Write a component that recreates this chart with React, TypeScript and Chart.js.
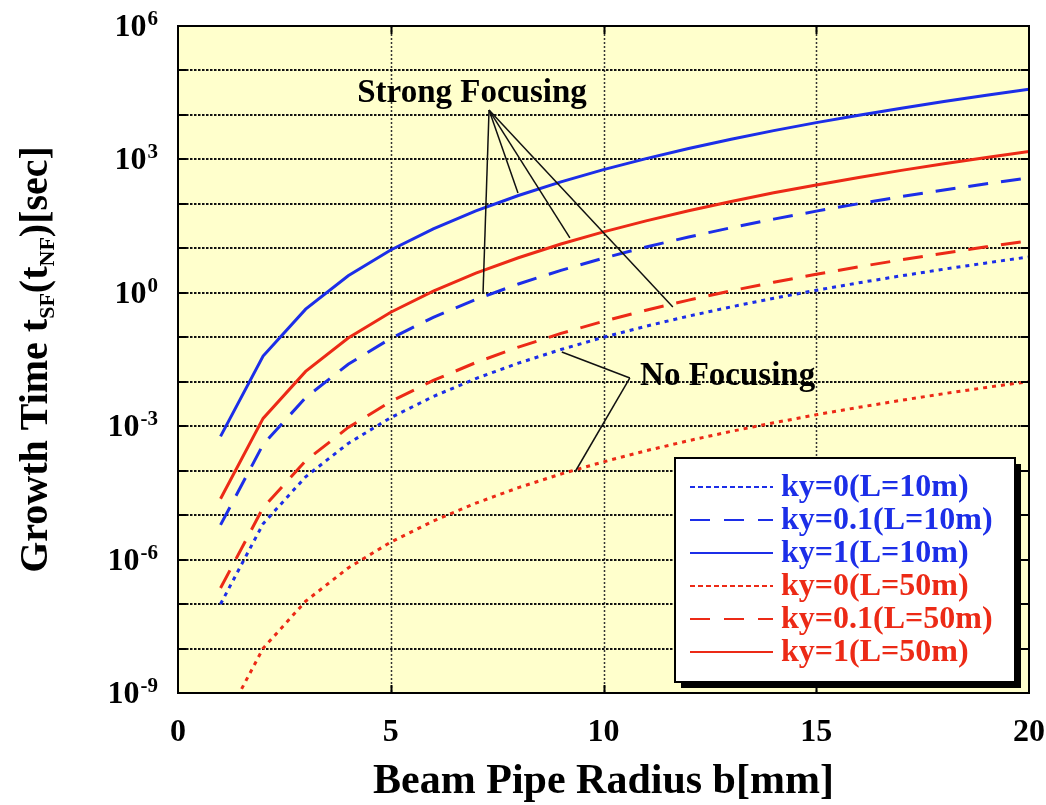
import React, { useEffect, useRef } from 'react';
import { Chart, registerables } from 'chart.js';

Chart.register(...registerables);

// Beam pipe radius b [mm]
const radius = [1, 2, 3, 4, 5, 6, 7, 8, 9, 10, 11, 12, 13, 14, 15, 16, 17, 18, 19, 20];

// Growth times [sec], L = 10 m
const ky0L10 = [1.0e-7, 6.4e-6, 7.29e-5, 4.1e-4, 1.56e-3, 4.67e-3, 0.0118, 0.0262, 0.0531, 0.1, 0.177, 0.299, 0.483, 0.753, 1.14, 1.68, 2.41, 3.4, 4.7, 6.4];
const ky01L10 = [6.03e-6, 3.86e-4, 4.39e-3, 0.0247, 0.0942, 0.281, 0.709, 1.58, 3.2, 6.03, 10.7, 18.0, 29.1, 45.4, 68.6, 101, 146, 205, 284, 386];
const ky1L10 = [5.89e-4, 0.0377, 0.429, 2.41, 9.2, 27.5, 69.3, 154, 313, 589, 1043, 1758, 2842, 4433, 6707, 9878, 14212, 20026, 27700, 37683];

// Growth times [sec], L = 50 m
const ky0L50 = [1.58e-10, 1.01e-8, 1.16e-7, 6.49e-7, 2.48e-6, 7.39e-6, 1.86e-5, 4.15e-5, 8.42e-5, 1.58e-4, 2.81e-4, 4.73e-4, 7.65e-4, 1.19e-3, 1.81e-3, 2.66e-3, 3.83e-3, 5.39e-3, 7.46e-3, 0.0101];
const ky01L50 = [2.29e-7, 1.47e-5, 1.67e-4, 9.38e-4, 3.58e-3, 0.0107, 0.027, 0.0601, 0.122, 0.229, 0.406, 0.684, 1.11, 1.73, 2.61, 3.84, 5.53, 7.79, 10.8, 14.7];
const ky1L50 = [2.34e-5, 1.5e-3, 0.0171, 0.096, 0.366, 1.094, 2.76, 6.15, 12.5, 23.4, 41.5, 70.0, 113, 177, 267, 393, 566, 797, 1103, 1500];

const seriesLabels = ['ky=0(L=10m)', 'ky=0.1(L=10m)', 'ky=1(L=10m)', 'ky=0(L=50m)', 'ky=0.1(L=50m)', 'ky=1(L=50m)'];

const xTickValues = [0, 5, 10, 15, 20];
const xGridValues = [5, 10, 15];
const yLabelExponents = [6, 3, 0, -3, -6, -9];
const yGridExponents = [6, 5, 4, 3, 2, 1, 0, -1, -2, -3, -4, -5, -6, -7, -8, -9];

const xTitle = 'Beam Pipe Radius b[mm]';
const strongLabel = 'Strong Focusing';
const noLabel = 'No Focusing';

const BLUE = 'rgb(28,46,232)';
const RED = 'rgb(236,42,22)';
const PLOT_BG = '#FFFFCC';
const SERIF = '"Liberation Serif", "Times New Roman", Times, serif';

const DOTTED = [4, 5];
const DASHED = [20, 13];

const makeSet = (label: string, values: number[], color: string, dash: number[]) => ({
  label,
  data: radius.map((b, i) => ({ x: b, y: values[i] })),
  borderColor: color,
  backgroundColor: color,
  borderWidth: 3,
  borderDash: dash,
  pointRadius: 0,
  tension: 0,
  fill: false,
});

const decorations = {
  id: 'decorations',
  beforeDatasetsDraw(chart: any) {
    const { ctx, chartArea: a, scales } = chart;
    const xs = scales.x;
    const ys = scales.y;
    ctx.save();
    ctx.fillStyle = PLOT_BG;
    ctx.fillRect(a.left, a.top, a.right - a.left, a.bottom - a.top);

    // vertical dotted grid
    ctx.strokeStyle = '#333';
    ctx.lineWidth = 1.5;
    ctx.setLineDash([2, 2]);
    for (const v of xGridValues) {
      const px = Math.round(xs.getPixelForValue(v)) + 0.5;
      ctx.beginPath();
      ctx.moveTo(px, a.top);
      ctx.lineTo(px, a.bottom);
      ctx.stroke();
    }
    // horizontal dotted grid at each decade
    ctx.strokeStyle = '#111';
    ctx.lineWidth = 2;
    ctx.setLineDash([2.5, 1.5]);
    for (const e of yGridExponents) {
      const py = Math.round(ys.getPixelForValue(Math.pow(10, e)));
      ctx.beginPath();
      ctx.moveTo(a.left, py);
      ctx.lineTo(a.right, py);
      ctx.stroke();
    }
    ctx.restore();
  },
  afterDatasetsDraw(chart: any) {
    const { ctx, chartArea: a, scales } = chart;
    const xs = scales.x;
    const ys = scales.y;
    const P = (x: number, lg: number) => [xs.getPixelForValue(x), ys.getPixelForValue(Math.pow(10, lg))];

    ctx.save();
    // frame
    ctx.setLineDash([]);
    ctx.strokeStyle = '#000';
    ctx.lineWidth = 2;
    ctx.strokeRect(a.left, a.top, a.right - a.left, a.bottom - a.top);

    // inward tick marks
    ctx.lineWidth = 2;
    for (const e of yGridExponents) {
      const py = Math.round(ys.getPixelForValue(Math.pow(10, e)));
      ctx.beginPath();
      ctx.moveTo(a.left, py);
      ctx.lineTo(a.left + 8, py);
      ctx.moveTo(a.right, py);
      ctx.lineTo(a.right - 8, py);
      ctx.stroke();
    }
    for (const v of xGridValues) {
      const px = Math.round(xs.getPixelForValue(v)) + 0.5;
      ctx.beginPath();
      ctx.moveTo(px, a.bottom);
      ctx.lineTo(px, a.bottom - 8);
      ctx.moveTo(px, a.top);
      ctx.lineTo(px, a.top + 8);
      ctx.stroke();
    }

    // annotation leaders
    ctx.lineWidth = 1.5;
    ctx.strokeStyle = '#111';
    const strongApex = P(7.31, 4.11);
    const strongTargets = [P(7.17, 0.02), P(7.99, 2.245), P(9.21, 1.233), P(11.63, -0.319)];
    for (const t of strongTargets) {
      ctx.beginPath();
      ctx.moveTo(strongApex[0], strongApex[1]);
      ctx.lineTo(t[0], t[1]);
      ctx.stroke();
    }
    const noApex = P(10.62, -1.915);
    const noTargets = [P(9.02, -1.33), P(9.33, -4.03)];
    for (const t of noTargets) {
      ctx.beginPath();
      ctx.moveTo(noApex[0], noApex[1]);
      ctx.lineTo(t[0], t[1]);
      ctx.stroke();
    }

    ctx.fillStyle = '#000';
    ctx.font = `bold 33px ${SERIF}`;
    ctx.textBaseline = 'alphabetic';
    ctx.textAlign = 'center';
    const sp = P(6.91, 4.29);
    ctx.fillText(strongLabel, sp[0], sp[1]);
    ctx.textAlign = 'left';
    const np = P(10.86, -2.07);
    ctx.fillText(noLabel, np[0], np[1]);

    // legend box
    const bx = 675, by = 458, bw = 340, bh = 224;
    ctx.fillStyle = '#000';
    ctx.fillRect(bx + 6, by + 6, bw, bh);
    ctx.fillStyle = '#fff';
    ctx.fillRect(bx, by, bw, bh);
    ctx.strokeStyle = '#000';
    ctx.lineWidth = 2;
    ctx.strokeRect(bx, by, bw, bh);
    const sampleDash = [[5, 3], [20, 14], [], [5, 3], [20, 14], []];
    chart.data.datasets.forEach((ds: any, i: number) => {
      const ly = by + 29 + i * 33;
      ctx.strokeStyle = ds.borderColor;
      ctx.lineWidth = 2;
      ctx.setLineDash(sampleDash[i]);
      ctx.beginPath();
      ctx.moveTo(690, ly);
      ctx.lineTo(773, ly);
      ctx.stroke();
      ctx.setLineDash([]);
      ctx.fillStyle = ds.borderColor;
      ctx.font = `bold 32px ${SERIF}`;
      ctx.textAlign = 'left';
      ctx.fillText(ds.label, 781, ly + 9);
    });
    ctx.restore();
  },
  afterDraw(chart: any) {
    const { ctx, chartArea: a, scales } = chart;
    const xs = scales.x;
    const ys = scales.y;
    ctx.save();
    ctx.fillStyle = '#000';
    ctx.textBaseline = 'alphabetic';

    // x tick labels
    ctx.font = `bold 32px ${SERIF}`;
    ctx.textAlign = 'center';
    for (const v of xTickValues) {
      ctx.fillText(String(v), xs.getPixelForValue(v), a.bottom + 48);
    }

    // y tick labels 10^n
    ctx.textAlign = 'left';
    const right = a.left - 20;
    for (const e of yLabelExponents) {
      const py = ys.getPixelForValue(Math.pow(10, e));
      const exp = String(e);
      ctx.font = `bold 21px ${SERIF}`;
      const we = ctx.measureText(exp).width;
      ctx.font = `bold 32px ${SERIF}`;
      const wb = ctx.measureText('10').width;
      ctx.fillText('10', right - we - wb - 1, py + 10);
      ctx.font = `bold 21px ${SERIF}`;
      ctx.fillText(exp, right - we, py - 1);
    }

    // x title
    ctx.font = `bold 42px ${SERIF}`;
    ctx.textAlign = 'center';
    ctx.fillText(xTitle, (a.left + a.right) / 2, 793);

    // y title with subscripts
    const parts: [string, boolean][] = [
      ['Growth Time t', false],
      ['SF', true],
      ['(t', false],
      ['NF', true],
      [')[sec]', false],
    ];
    const big = `bold 40px ${SERIF}`;
    const small = `bold 22px ${SERIF}`;
    let total = 0;
    const widths = parts.map(([s, sub]) => {
      ctx.font = sub ? small : big;
      const w = ctx.measureText(s).width;
      total += w;
      return w;
    });
    ctx.translate(47, (a.top + a.bottom) / 2);
    ctx.rotate(-Math.PI / 2);
    ctx.textAlign = 'left';
    let cx = -total / 2;
    parts.forEach(([s, sub], i) => {
      ctx.font = sub ? small : big;
      ctx.fillText(s, cx, sub ? 7 : 0);
      cx += widths[i];
    });
    ctx.restore();
  },
};

export default function App() {
  const canvasRef = useRef<HTMLCanvasElement | null>(null);

  useEffect(() => {
    document.body.style.margin = '0';
    const canvas = canvasRef.current;
    if (!canvas) return;
    const chart = new Chart(canvas, {
      type: 'line',
      data: {
        datasets: [
          makeSet(seriesLabels[0], ky0L10, BLUE, DOTTED),
          makeSet(seriesLabels[1], ky01L10, BLUE, DASHED),
          makeSet(seriesLabels[2], ky1L10, BLUE, []),
          makeSet(seriesLabels[3], ky0L50, RED, DOTTED),
          makeSet(seriesLabels[4], ky01L50, RED, DASHED),
          makeSet(seriesLabels[5], ky1L50, RED, []),
        ],
      },
      options: {
        responsive: false,
        animation: false,
        layout: { padding: { left: 0, top: 26, right: 17, bottom: 0 } },
        plugins: {
          legend: { display: false },
          tooltip: { enabled: false },
        },
        scales: {
          x: {
            type: 'linear',
            min: 0,
            max: 20,
            ticks: { display: false, stepSize: 5 },
            grid: { display: false },
            border: { display: false },
            afterFit: (s: any) => {
              s.height = 112;
            },
          },
          y: {
            type: 'logarithmic',
            min: 1e-9,
            max: 1e6,
            ticks: { display: false },
            grid: { display: false },
            border: { display: false },
            afterFit: (s: any) => {
              s.width = 178;
            },
          },
        },
      },
      plugins: [decorations],
    } as any);
    return () => chart.destroy();
  }, []);

  return (
    <div style={{ width: 1046, height: 805 }}>
      <canvas ref={canvasRef} width={1046} height={805} style={{ display: 'block' }} />
    </div>
  );
}
